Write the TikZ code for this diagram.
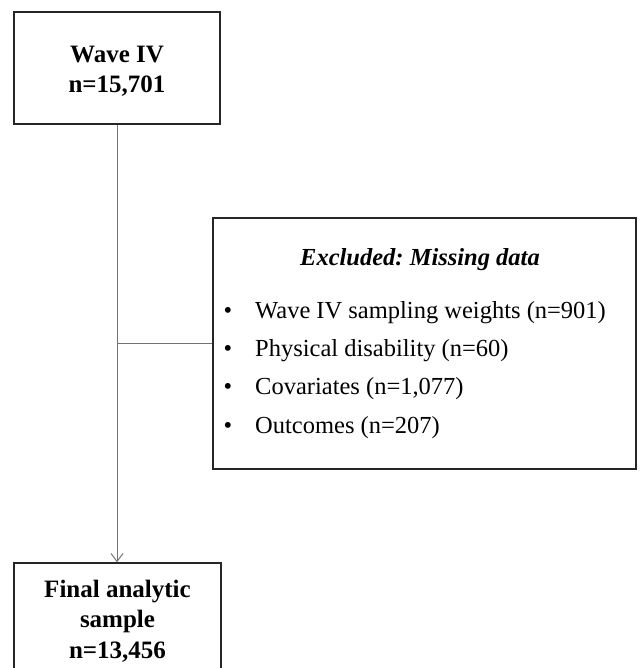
\documentclass[tikz,border=0pt]{standalone}
\usepackage{fontspec}
\setmainfont{Liberation Serif}
\usetikzlibrary{arrows.meta}
\frenchspacing
\begin{document}
\begin{tikzpicture}[x=1pt,y=-1pt,
  boxstyle/.style={draw=black!85, line width=1.4pt, rectangle, inner sep=0pt},
  conn/.style={draw=black!55, line width=1pt},
  bigtxt/.style={font=\fontsize{25}{30}\selectfont\bfseries, anchor=base, inner sep=0pt},
  itemtxt/.style={font=\fontsize{24.5}{30}\selectfont, anchor=base west, inner sep=0pt},
  bul/.style={font=\fontsize{24.5}{30}\selectfont, anchor=base, inner sep=0pt}]
\useasboundingbox (0,0) rectangle (640,668);
\clip (0,0) rectangle (640,668);
% boxes
\node[boxstyle, minimum width=206pt, minimum height=112pt] (wave) at (117,68) {};
\node[boxstyle, minimum width=423pt, minimum height=251pt] (excl) at (424.5,343.5) {};
\node[boxstyle, minimum width=207pt, minimum height=130pt] (final) at (117.5,628) {};
% top box text
\node[bigtxt] (w1) at (117,63) {Wave IV};
\node[bigtxt] (w2) at (117,93) {n=15,701};
% bottom box text
\node[bigtxt] (f1) at (117.5,597) {Final analytic};
\node[bigtxt] (f2) at (117.5,627.5) {sample};
\node[bigtxt] (f3) at (117.5,658) {n=13,456};
% excluded box text
\node[font=\fontsize{24.5}{30}\selectfont\bfseries\itshape, anchor=base, inner sep=0pt] (head) at (420,265) {Excluded: Missing data};
\node[bul] (b1) at (228,318) {•};
\node[bul] (b2) at (228,356) {•};
\node[bul] (b3) at (228,394) {•};
\node[bul] (b4) at (228,433) {•};
\node[itemtxt] (i1) at (255,318) {Wave IV sampling weights (n=901)};
\node[itemtxt] (i2) at (255,356) {Physical disability (n=60)};
\node[itemtxt] (i3) at (255,394) {Covariates (n=1,077)};
\node[itemtxt] (i4) at (255,433) {Outcomes (n=207)};
% connectors
\coordinate (j) at (wave.south |- excl.west);
\draw[conn, -{Straight Barb[length=8pt,width=12pt,line width=1pt]}] (wave.south) -- (wave.south |- final.north);
\draw[conn] (j) -- (excl.west);
\end{tikzpicture}
\end{document}
